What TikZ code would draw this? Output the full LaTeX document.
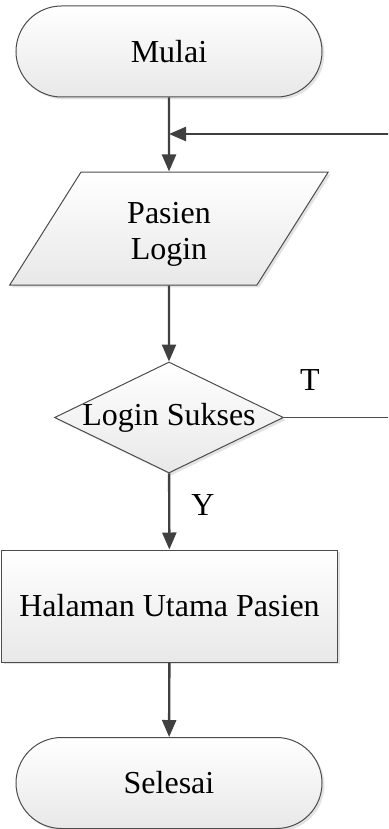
\documentclass[tikz,border=0pt]{standalone}
\usepackage{fontspec}
\setmainfont{Liberation Serif}
\usetikzlibrary{arrows.meta,shapes.geometric,shadows}

\begin{document}
\begin{tikzpicture}[>={Triangle[length=8.5pt,width=7pt]},x=0.5pt,y=-0.5pt,
		font=\fontsize{16}{18}\selectfont,
		box/.style={draw=black!70,line width=0.5pt,top color=white,bottom color=black!9,
			drop shadow={shadow xshift=1.2pt,shadow yshift=-1.2pt,fill=black!22},
			align=center,inner sep=0pt},
		terminal/.style={box,rectangle,rounded corners=22.75pt,minimum width=153pt,minimum height=45.5pt},
		io/.style={box,trapezium,trapezium left angle=66,trapezium right angle=114,
			trapezium stretches=true,minimum width=159.5pt,minimum height=56.5pt},
		decision/.style={box,diamond,aspect=2.06,inner sep=-3pt,minimum width=114.5pt,minimum height=55.5pt},
		process/.style={box,rectangle,minimum width=168pt,minimum height=56pt},
		flow/.style={->,draw=black!75,line width=1.2pt}]
		\useasboundingbox (0,0) rectangle (388,829);
		\clip (0,0) rectangle (388,829);
		\node[terminal] (mulai) at (169,51.5) {Mulai};
		\node[io] (login) at (169,228.5) {\rule{0pt}{16.6pt}Pasien\\Login};
		\node[decision] (cek) at (169,417.5) {Login Sukses};
		\node[process] (utama) at (169.5,606) {Halaman Utama Pasien};
		\node[terminal] (selesai) at (169,783) {Selesai};
		\coordinate (balik) at (169,134);
		\coordinate (kanan) at (396,417.5);
		\coordinate (atas) at (396,134);
		\draw[flow] (mulai) -- (login);
		\draw[flow] (login) -- (cek);
		\draw[draw=black!70,line width=0.5pt] (cek.east) -- (kanan) -- (atas);
		\draw[flow] (atas) -- (balik);
		\draw[flow] (cek) -- (utama);
		\draw[flow] (utama) -- (selesai);
		\node (tidak) at (310,380) {T};
		\node (ya) at (203,505) {Y};
	\end{tikzpicture}
\end{document}
